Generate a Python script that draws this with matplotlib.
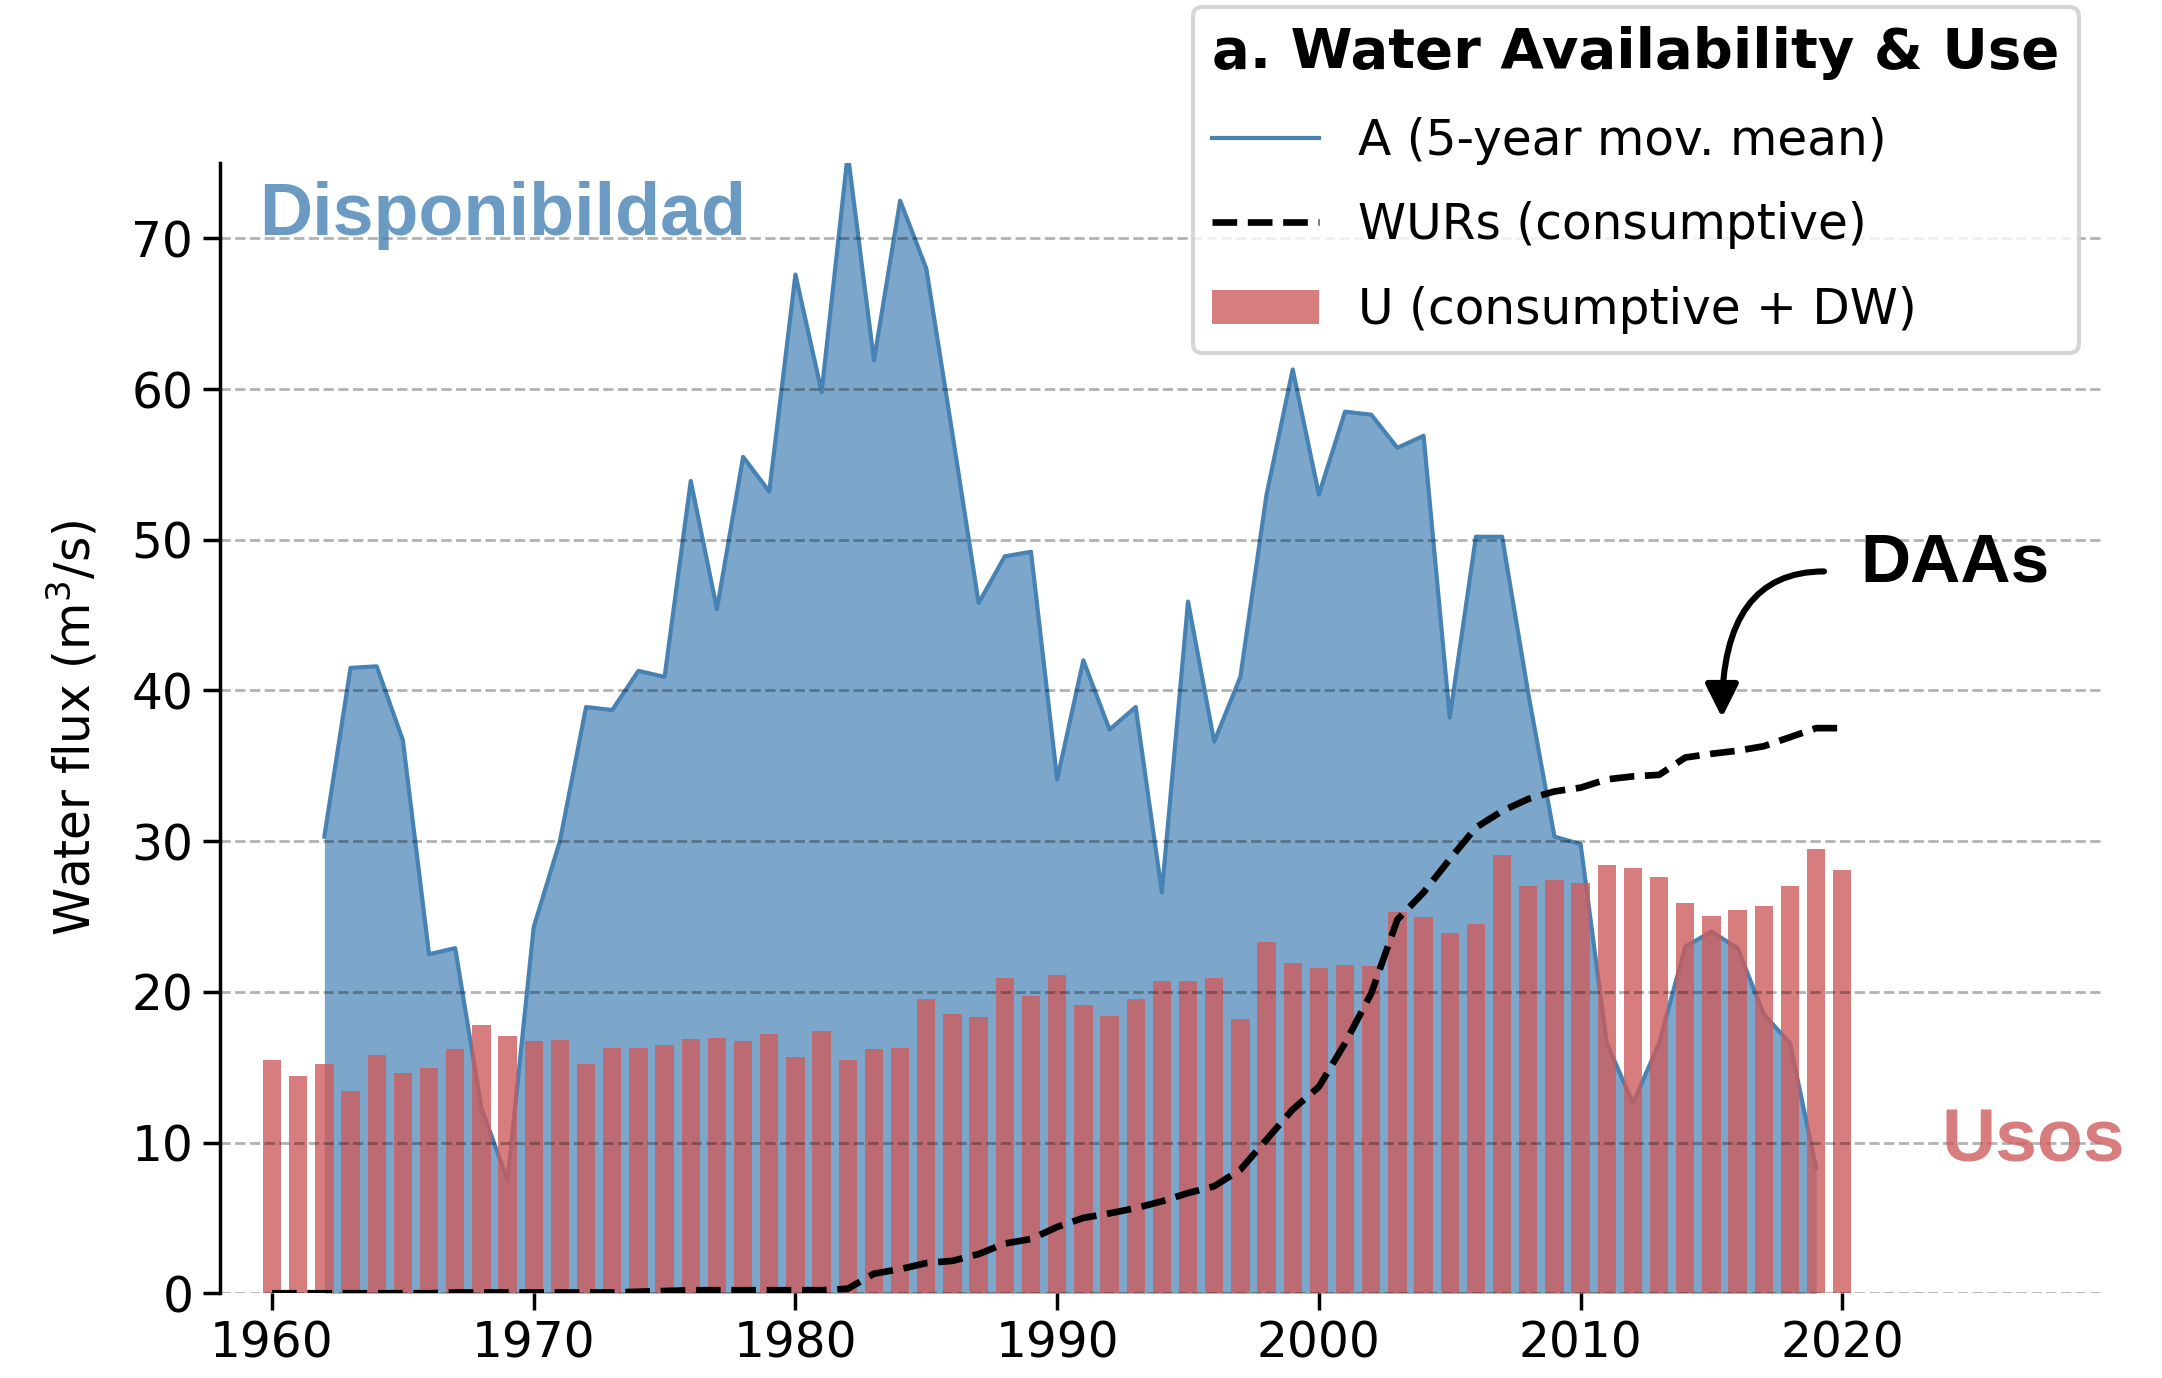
#!/usr/bin/env python3
"""plot.py
Water availability (5-year moving mean), water use rights and total use.
"""
import numpy as np
import matplotlib
matplotlib.use("Agg")
from matplotlib import pyplot as plt

# Availability A (5-year moving mean), m3/s
years_a = list(range(1962, 2020))
avail = [30.3, 41.5, 41.6, 36.7, 22.5, 22.9, 12.3, 7.5, 24.3, 30.0,
         38.9, 38.7, 41.3, 40.9, 53.9, 45.4, 55.5, 53.2, 67.6, 59.8,
         75.6, 61.9, 72.5, 68.0, 57.0, 45.8, 48.9, 49.2, 34.1, 42.0,
         37.4, 38.9, 26.6, 45.9, 36.6, 40.9, 53.0, 61.3, 53.0, 58.5,
         58.3, 56.1, 56.9, 38.2, 50.2, 50.2, 39.8, 30.3, 29.8, 16.6,
         12.6, 16.6, 23.0, 24.0, 22.9, 18.5, 16.6, 8.3]

# Consumptive water use rights (DAAs)
years_w = list(range(1960, 2021))
wurs = [0.0, 0.0, 0.0, 0.0, 0.0, 0.0, 0.0, 0.05, 0.05, 0.05,
        0.05, 0.05, 0.05, 0.05, 0.1, 0.15, 0.2, 0.2, 0.2, 0.2,
        0.2, 0.2, 0.3, 1.3, 1.6, 2.0, 2.15, 2.6, 3.3, 3.6,
        4.4, 5.0, 5.3, 5.65, 6.1, 6.65, 7.1, 8.2, 10.2, 12.2,
        13.7, 16.6, 19.9, 24.8, 26.6, 28.8, 30.9, 32.0, 32.8, 33.3,
        33.55, 34.1, 34.3, 34.4, 35.55, 35.8, 36.0, 36.3, 36.9, 37.5,
        37.5]

# Total use U (consumptive + DW)
years_u = list(range(1960, 2021))
use = [15.5, 14.4, 15.2, 13.4, 15.8, 14.6, 14.95, 16.2, 17.8, 17.1,
       16.75, 16.8, 15.2, 16.3, 16.3, 16.5, 16.9, 16.95, 16.75, 17.2,
       15.7, 17.4, 15.5, 16.2, 16.3, 19.5, 18.5, 18.35, 20.9, 19.75,
       21.1, 19.15, 18.4, 19.5, 20.7, 20.7, 20.9, 18.2, 23.3, 21.9,
       21.6, 21.8, 21.7, 25.3, 25.0, 23.9, 24.5, 29.1, 27.05, 27.45,
       27.25, 28.4, 28.2, 27.6, 25.9, 25.05, 25.45, 25.7, 27.05, 29.45,
       28.1]

x_ticks = [1960, 1970, 1980, 1990, 2000, 2010, 2020]
y_ticks = [0, 10, 20, 30, 40, 50, 60, 70]

plt.rcParams['font.family'] = ['DejaVu Sans']
plt.rcParams['font.size'] = 17.5

fig = plt.figure(figsize=(10.81, 6.89), dpi=200)
ax = fig.add_axes([0.1016, 0.0615, 0.8716, 0.8202])

# Availability
ax.fill_between(years_a, avail, color="steelblue", alpha=0.7, lw=0, zorder=1)
line_a, = ax.plot(years_a, avail, color="steelblue", lw=1.5, zorder=1.5,
                  label="A (5-year mov. mean)")

# Uses
bars = ax.bar(years_u, use, width=0.7, color="indianred", alpha=0.8,
              zorder=2.2, label="U (consumptive + DW)")

# Water use rights
line_w, = ax.plot(years_w, wurs, "k--", lw=2.4, zorder=3,
                  label="WURs (consumptive)")

# Formatting
ax.set_xlim(1958, 2030)
ax.set_ylim(0, 75)
ax.set_xticks(x_ticks)
ax.set_yticks(y_ticks)
ax.tick_params(axis="both", direction="out", length=6, width=1.25,
               labelsize=17.5)
ax.set_ylabel("Water flux (m$^3$/s)", fontsize=17.5, labelpad=11)
for side in ["top", "right", "bottom"]:
    ax.spines[side].set_visible(False)
ax.spines["left"].set_linewidth(1.25)
ax.set_axisbelow(False)
ax.yaxis.grid(True, color="k", alpha=0.3, linestyle="--", lw=1)

# Text labels
ax.text(1959.5, 70.2, "Disponibildad", color="steelblue", alpha=0.8,
        fontsize=26.5, fontweight="bold", family="Liberation Sans",
        ha="left", va="baseline")
ax.text(2023.8, 8.75, "Usos", color="indianred", alpha=0.8,
        fontsize=27, fontweight="bold", family="Liberation Sans",
        ha="left", va="baseline", clip_on=False)
ax.text(2024.3, 48.4, "DAAs", color="k", fontsize=25, fontweight="bold",
        family="Liberation Sans", ha="center", va="center")
ax.annotate("", xy=(2015.4, 38.2), xytext=(2019.3, 47.9),
            arrowprops=dict(arrowstyle="-|>", color="k", lw=2.2,
                            mutation_scale=25, shrinkA=0, shrinkB=0,
                            connectionstyle="angle3,angleA=0,angleB=90"))

leg = fig.legend([line_a, line_w, bars],
                 ["A (5-year mov. mean)", "WURs (consumptive)",
                  "U (consumptive + DW)"],
                 loc="upper right", bbox_to_anchor=(0.9616, 0.995),
                 borderaxespad=0, fontsize=17.5, handlelength=2.2,
                 handletextpad=0.8, labelspacing=0.75, alignment="left",
                 title="a. Water Availability & Use",
                 title_fontproperties={"weight": "bold", "size": 20.2})
leg.get_frame().set_linewidth(1.5)

fig.savefig("out.png", dpi=200)
